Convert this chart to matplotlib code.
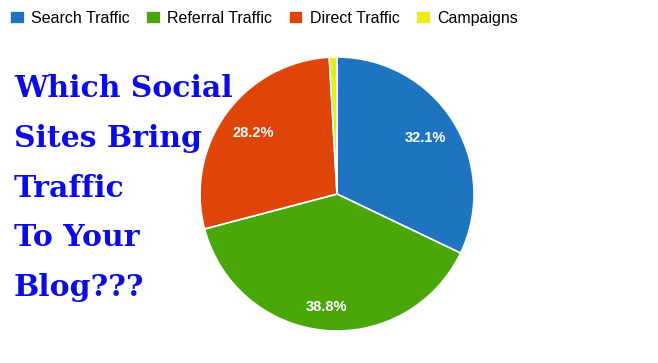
"""Pie chart: which social sites bring traffic to your blog."""

import matplotlib
matplotlib.use('Agg')
import matplotlib.pyplot as plt

sources = ['Search Traffic', 'Referral Traffic', 'Direct Traffic', 'Campaigns']
shares = [32.1, 38.8, 28.2, 0.9]
colors = ['#1f74c2', '#4aa70a', '#df4509', '#e9ee0e']
title_lines = ['Which Social', 'Sites Bring', 'Traffic', 'To Your', 'Blog???']

W, H = 658, 363
fig = plt.figure(figsize=(W / 100, H / 100), dpi=100)

# pie: centre (337, 194) px, radius 137 px
cx, cy, r = 337, 194, 137
ax = fig.add_axes([(cx - r) / W, (H - cy - r) / H, 2 * r / W, 2 * r / H])
wedges, _, autotexts = ax.pie(
    shares, colors=colors, startangle=90, counterclock=False,
    autopct=lambda p: f'{p:.1f}%' if p > 5 else '', pctdistance=0.76,
    wedgeprops=dict(edgecolor='white', linewidth=1.2),
    textprops=dict(color='white', fontsize=10.5, fontweight='bold',
                   family='Liberation Sans'))
# the big slice's label sits a bit further out
x, y = autotexts[1].get_position()
autotexts[1].set_position((x * 0.83 / 0.76, y * 0.83 / 0.76))
ax.set_xlim(-1, 1)
ax.set_ylim(-1, 1)
ax.set_aspect('equal')
ax.axis('off')

fig.legend(wedges, sources, ncol=4, loc='upper left',
           bbox_to_anchor=(-0.004, 1.005), frameon=False,
           prop=dict(family='Liberation Sans', size=11.5),
           handlelength=0.9, handleheight=0.9, handletextpad=0.4,
           columnspacing=1.05, borderpad=0.3)

baselines = [97, 147, 197, 246, 296]
for line, yb in zip(title_lines, baselines):
    fig.text(14 / W, 1 - yb / H, line, ha='left', va='baseline',
             color='#0b0be8', fontsize=21.5, fontweight='bold',
             family='DejaVu Serif')

plt.savefig('out.png', dpi=100)
print("Saved: out.png")
